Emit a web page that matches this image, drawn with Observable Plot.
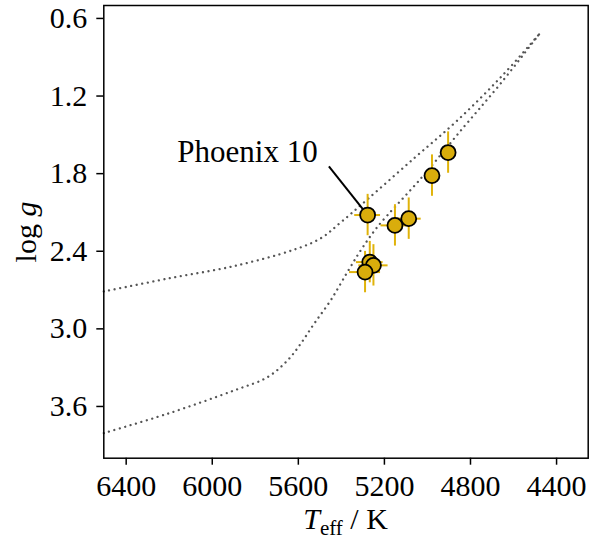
<!DOCTYPE html>
<html><head><meta charset="utf-8">
<script src="https://cdn.jsdelivr.net/npm/d3@7"></script>
<script src="https://cdn.jsdelivr.net/npm/@observablehq/plot@0.6"></script>
<style>body{margin:0;background:#fff} svg{display:block}</style>
</head><body><div id="chart"></div>
<script>
// Stars (Teff / K, log g) with uncertainties
const starName    = ["Phoenix 10", "", "", "", "", "", "", ""];
const starTeff    = [5278, 5151, 5087, 4979, 4904, 5268, 5251, 5290];
const starLogg    = [2.12, 2.20, 2.148, 1.815, 1.637, 2.484, 2.509, 2.561];
const starTeffErr = [60, 65, 58, 30, 30, 62, 68, 72];
const starLoggErr = [0.16, 0.16, 0.16, 0.16, 0.16, 0.16, 0.16, 0.16];

// Isochrone A (upper / low-gravity track)
const isoATeff = [6504, 6209, 5900, 5620, 5496, 5403, 5279, 5062, 4860, 4659, 4481];
const isoALogg = [2.711, 2.612, 2.515, 2.388, 2.300, 2.177, 1.999, 1.681, 1.387, 1.054, 0.722];
// Isochrone B (lower track)
const isoBTeff = [6504, 6209, 5900, 5744, 5651, 5589, 5527, 5450, 5372, 5310, 5233, 5031, 4831, 4659, 4481];
const isoBLogg = [3.806, 3.657, 3.477, 3.374, 3.245, 3.115, 2.961, 2.780, 2.561, 2.393, 2.213, 1.838, 1.439, 1.101, 0.722];

// Annotation label anchor and line start
const labelText = "Phoenix 10";
const labelTeff = 5836, labelLogg = 1.71;
const leaderTeff = 5458, leaderLogg = 1.743;

const xTicks = [6400, 6000, 5600, 5200, 4800, 4400];
const yTicks = [0.6, 1.2, 1.8, 2.4, 3.0, 3.6];

const stars = starTeff.map((t, i) => ({name: starName[i], teff: t, logg: starLogg[i], et: starTeffErr[i], eg: starLoggErr[i]}));
const isoA = isoATeff.map((t, i) => ({teff: t, logg: isoALogg[i]}));
const isoB = isoBTeff.map((t, i) => ({teff: t, logg: isoBLogg[i]}));
const target = stars[0];

const gold = "#e0b30a";
const fillGold = "#d9ad0c";
const font = "Liberation Serif";
const isoStyle = {x: "teff", y: "logg", stroke: "#555", strokeWidth: 2.3, strokeDasharray: "0.01,5.6", strokeLinecap: "round", curve: "catmull-rom"};

const chart = Plot.plot({
  width: 593, height: 539,
  marginLeft: 103.3, marginRight: 5.3, marginTop: 5, marginBottom: 81.3,
  x: {domain: [6504, 4253]},
  y: {domain: [4.0, 0.5]},
  style: {fontFamily: font, fontSize: "30px", color: "#000", background: "#fff"},
  marks: [
    Plot.line(isoA, isoStyle),
    Plot.line(isoB, isoStyle),
    Plot.link([target], {x1: () => leaderTeff, y1: () => leaderLogg, x2: "teff", y2: "logg", stroke: "#000", strokeWidth: 2}),
    Plot.ruleX(stars, {x: "teff", y1: d => d.logg - d.eg, y2: d => d.logg + d.eg, stroke: gold, strokeWidth: 2}),
    Plot.ruleY(stars, {y: "logg", x1: d => d.teff - d.et, x2: d => d.teff + d.et, stroke: gold, strokeWidth: 2}),
    Plot.dot(stars, {x: "teff", y: "logg", r: 7.5, fill: fillGold, stroke: "#000", strokeWidth: 1.8}),
    Plot.text([labelText], {x: () => labelTeff, y: () => labelLogg, text: d => d, textAnchor: "middle", lineAnchor: "bottom", fontSize: 31, fontFamily: font, fill: "#000"}),
    Plot.frame({stroke: "#000", strokeWidth: 1.5}),
    Plot.axisX(xTicks, {tickSize: 7, tickPadding: 9, strokeWidth: 1.5, fontSize: 30, fontFamily: font, tickFormat: d => String(d), label: null}),
    Plot.axisY(yTicks, {tickSize: 7, tickPadding: 9.5, strokeWidth: 1.5, fontSize: 30, fontFamily: font, tickFormat: d => d.toFixed(1), label: null})
  ]
});

const svg = d3.select(chart);
svg.style("font-family", font);

const xl = svg.append("text")
  .attr("x", 345.5).attr("y", 529)
  .attr("text-anchor", "middle")
  .style("font-family", font).attr("font-size", 30).attr("fill", "#000");
xl.append("tspan").attr("font-style", "italic").text("T");
xl.append("tspan").attr("font-size", 21).attr("dy", 6).text("eff");
xl.append("tspan").attr("dy", -6).text(" / K");

const yl = svg.append("text")
  .attr("transform", "translate(36,232) rotate(-90)")
  .attr("text-anchor", "middle")
  .style("font-family", font).attr("font-size", 30).attr("fill", "#000");
yl.append("tspan").text("log ");
yl.append("tspan").attr("font-style", "italic").text("g");

document.getElementById("chart").appendChild(chart);
</script>
</body></html>
